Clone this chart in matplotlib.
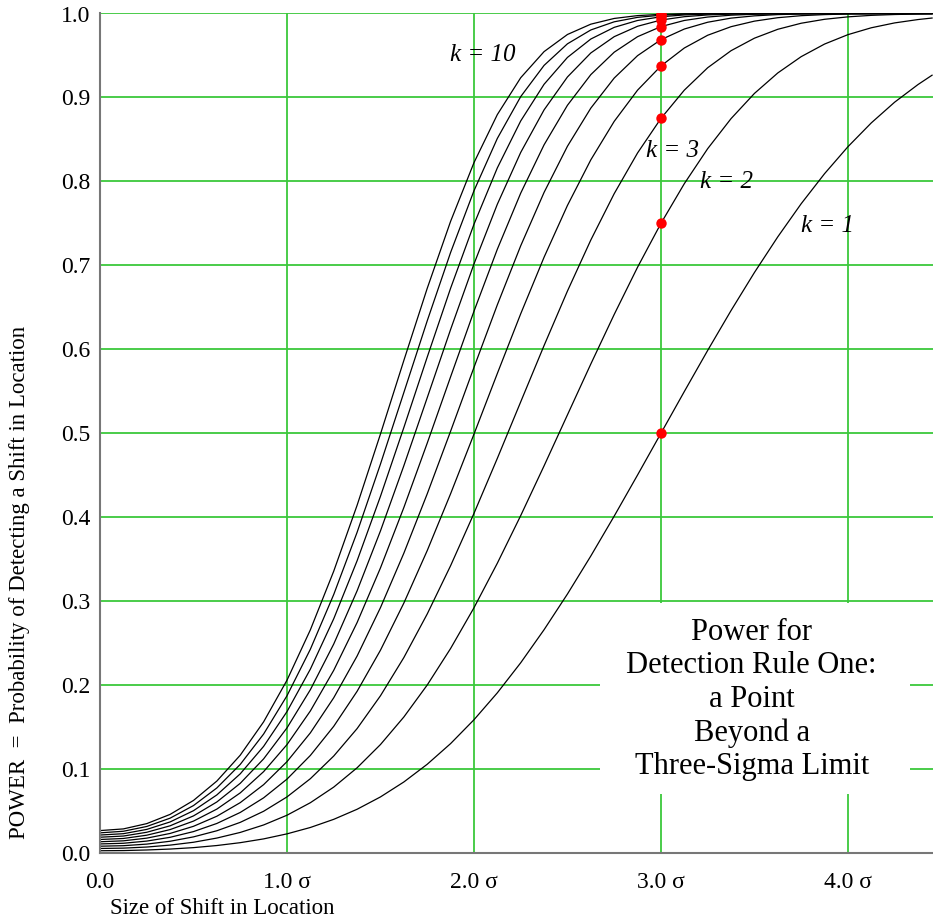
import matplotlib
matplotlib.use("Agg")
import matplotlib.pyplot as plt
from matplotlib.patches import Rectangle

# ---- data ----
shift = [0, 0.125, 0.25, 0.375, 0.5, 0.625, 0.75, 0.875, 1.0, 1.125, 1.25, 1.375,
         1.5, 1.625, 1.75, 1.875, 2.0, 2.125, 2.25, 2.375, 2.5, 2.625, 2.75, 2.875,
         3.0, 3.125, 3.25, 3.375, 3.5, 3.625, 3.75, 3.875, 4.0, 4.125, 4.25, 4.375, 4.45]

power_k1 = [0.0027, 0.0029, 0.0036, 0.0047, 0.0064, 0.0089, 0.0123, 0.0168, 0.0228, 0.0304, 0.0401, 0.0521,
            0.0668, 0.0846, 0.1057, 0.1303, 0.1587, 0.1908, 0.2266, 0.2660, 0.3085, 0.3538, 0.4013, 0.4503,
            0.5000, 0.5497, 0.5987, 0.6462, 0.6915, 0.7340, 0.7734, 0.8092, 0.8413, 0.8697, 0.8944, 0.9154, 0.9265]
power_k2 = [0.0054, 0.0058, 0.0071, 0.0094, 0.0128, 0.0178, 0.0245, 0.0334, 0.0450, 0.0599, 0.0785, 0.1015,
            0.1292, 0.1620, 0.2001, 0.2436, 0.2921, 0.3452, 0.4019, 0.4612, 0.5219, 0.5825, 0.6415, 0.6978,
            0.7500, 0.7973, 0.8390, 0.8748, 0.9048, 0.9292, 0.9486, 0.9636, 0.9748, 0.9830, 0.9888, 0.9928, 0.9946]
power_k3 = [0.0081, 0.0087, 0.0106, 0.0140, 0.0192, 0.0265, 0.0365, 0.0497, 0.0668, 0.0885, 0.1155, 0.1482,
            0.1873, 0.2328, 0.2847, 0.3422, 0.4045, 0.4701, 0.5374, 0.6045, 0.6694, 0.7302, 0.7854, 0.8339,
            0.8750, 0.9087, 0.9354, 0.9557, 0.9706, 0.9812, 0.9884, 0.9931, 0.9960, 0.9978, 0.9988, 0.9994, 0.9996]
power_k4 = [0.0108, 0.0116, 0.0142, 0.0187, 0.0255, 0.0352, 0.0483, 0.0657, 0.0880, 0.1162, 0.1509, 0.1926,
            0.2416, 0.2977, 0.3602, 0.4279, 0.4989, 0.5712, 0.6423, 0.7097, 0.7714, 0.8257, 0.8715, 0.9087,
            0.9375, 0.9589, 0.9741, 0.9843, 0.9909, 0.9950, 0.9974, 0.9987, 0.9994, 0.9997, 0.9999, 0.9999, 1.0]
power_k5 = [0.0134, 0.0145, 0.0177, 0.0233, 0.0318, 0.0438, 0.0600, 0.0814, 0.1088, 0.1431, 0.1849, 0.2346,
            0.2923, 0.3571, 0.4278, 0.5024, 0.5784, 0.6530, 0.7233, 0.7869, 0.8419, 0.8873, 0.9231, 0.9498,
            0.9688, 0.9815, 0.9896, 0.9945, 0.9972, 0.9987, 0.9994, 0.9997, 0.9999, 1.0, 1.0, 1.0, 1.0]
power_k6 = [0.0161, 0.0173, 0.0212, 0.0279, 0.0380, 0.0523, 0.0716, 0.0969, 0.1291, 0.1692, 0.2176, 0.2745,
            0.3396, 0.4115, 0.4882, 0.5672, 0.6453, 0.7192, 0.7860, 0.8436, 0.8907, 0.9272, 0.9539, 0.9724,
            0.9844, 0.9917, 0.9958, 0.9980, 0.9991, 0.9996, 0.9999, 0.9999, 1.0, 1.0, 1.0, 1.0, 1.0]
power_k7 = [0.0188, 0.0202, 0.0247, 0.0324, 0.0442, 0.0608, 0.0830, 0.1121, 0.1490, 0.1945, 0.2489, 0.3123,
            0.3837, 0.4613, 0.5423, 0.6236, 0.7016, 0.7728, 0.8345, 0.8852, 0.9244, 0.9530, 0.9724, 0.9848,
            0.9922, 0.9962, 0.9983, 0.9993, 0.9997, 0.9999, 1.0, 1.0, 1.0, 1.0, 1.0, 1.0, 1.0]
power_k8 = [0.0214, 0.0230, 0.0281, 0.0370, 0.0504, 0.0692, 0.0943, 0.1270, 0.1684, 0.2190, 0.2790, 0.3481,
            0.4249, 0.5068, 0.5907, 0.6727, 0.7489, 0.8161, 0.8720, 0.9157, 0.9477, 0.9696, 0.9835, 0.9917,
            0.9961, 0.9983, 0.9993, 0.9998, 0.9999, 1.0, 1.0, 1.0, 1.0, 1.0, 1.0, 1.0, 1.0]
power_k9 = [0.0240, 0.0259, 0.0316, 0.0415, 0.0565, 0.0775, 0.1055, 0.1417, 0.1873, 0.2427, 0.3079, 0.3820,
            0.4633, 0.5485, 0.6339, 0.7153, 0.7888, 0.8512, 0.9010, 0.9382, 0.9639, 0.9804, 0.9901, 0.9954,
            0.9980, 0.9992, 0.9997, 0.9999, 1.0, 1.0, 1.0, 1.0, 1.0, 1.0, 1.0, 1.0, 1.0]
power_k10 = [0.0267, 0.0287, 0.0350, 0.0460, 0.0626, 0.0857, 0.1165, 0.1562, 0.2058, 0.2658, 0.3357, 0.4142,
             0.4991, 0.5867, 0.6726, 0.7524, 0.8223, 0.8796, 0.9235, 0.9546, 0.9750, 0.9873, 0.9941, 0.9975,
             0.9990, 0.9997, 0.9999, 1.0, 1.0, 1.0, 1.0, 1.0, 1.0, 1.0, 1.0, 1.0, 1.0]

curves = [power_k1, power_k2, power_k3, power_k4, power_k5,
          power_k6, power_k7, power_k8, power_k9, power_k10]

dot_shift = 3.0
x_ticks = [0, 1, 2, 3, 4]
x_tick_labels = ["0.0", "1.0 σ", "2.0 σ", "3.0 σ", "4.0 σ"]
y_ticks = [0.0, 0.1, 0.2, 0.3, 0.4, 0.5, 0.6, 0.7, 0.8, 0.9, 1.0]
y_tick_labels = ["0.0", "0.1", "0.2", "0.3", "0.4", "0.5", "0.6", "0.7", "0.8", "0.9", "1.0"]

k_labels = ["k = 10", "k = 3", "k = 2", "k = 1"]
k_label_pos = [(2.045, 0.951), (3.06, 0.836), (3.35, 0.799), (3.89, 0.747)]

box_text = "Power for\nDetection Rule One:\na Point\nBeyond a\nThree-Sigma Limit"

# ---- figure ----
plt.rcParams['font.family'] = ['Liberation Serif', 'DejaVu Serif']
GREEN = '#3cc83c'

fig = plt.figure(figsize=(9.33, 9.21), dpi=100)
ax = fig.add_axes([100/933, 1-853/921, 1-100/933, (853-13.5)/921])
ax.set_xlim(0, 4.455)
ax.set_ylim(0, 1.0)
ax.set_axisbelow(True)
ax.grid(True, color=GREEN, lw=1.3)

for s in ['top', 'right']:
    ax.spines[s].set_visible(False)
for s in ['left', 'bottom']:
    ax.spines[s].set_color('#777777')
    ax.spines[s].set_linewidth(1.5)

ax.set_xticks(x_ticks)
ax.set_xticklabels(x_tick_labels, fontsize=17)
ax.set_yticks(y_ticks)
ax.set_yticklabels(y_tick_labels, fontsize=17)
ax.tick_params(axis='x', length=0, pad=14)
ax.tick_params(axis='y', length=0, pad=7)

# white box for the annotation
ax.add_patch(Rectangle((2.675, 0.070), 4.33-2.675, 0.298-0.070,
                       facecolor='white', edgecolor='none', zorder=1))

for c in curves:
    ax.plot(shift, c, color='black', lw=0.9, zorder=2)

idx = shift.index(dot_shift)
ax.plot([dot_shift]*len(curves), [c[idx] for c in curves], 'o',
        color='#ff0000', markersize=7.5, markeredgewidth=0, zorder=3)

for lab, (x, y) in zip(k_labels, k_label_pos):
    ax.text(x, y, lab, fontsize=18, style='italic', ha='center', va='center', zorder=4)

ax.text(3.485, 0.183, box_text, fontsize=22, ha='center', va='center',
        multialignment='center', linespacing=1.2, zorder=4)

fig.text(110/933, 1-908/921, "Size of Shift in Location", fontsize=16.5,
         ha='left', va='center')
fig.text(20/933, 1-582/921, "POWER  =  Probability of Detecting a Shift in Location",
         fontsize=16.5, rotation=90, ha='center', va='center')

fig.savefig("out.png", dpi=100)
